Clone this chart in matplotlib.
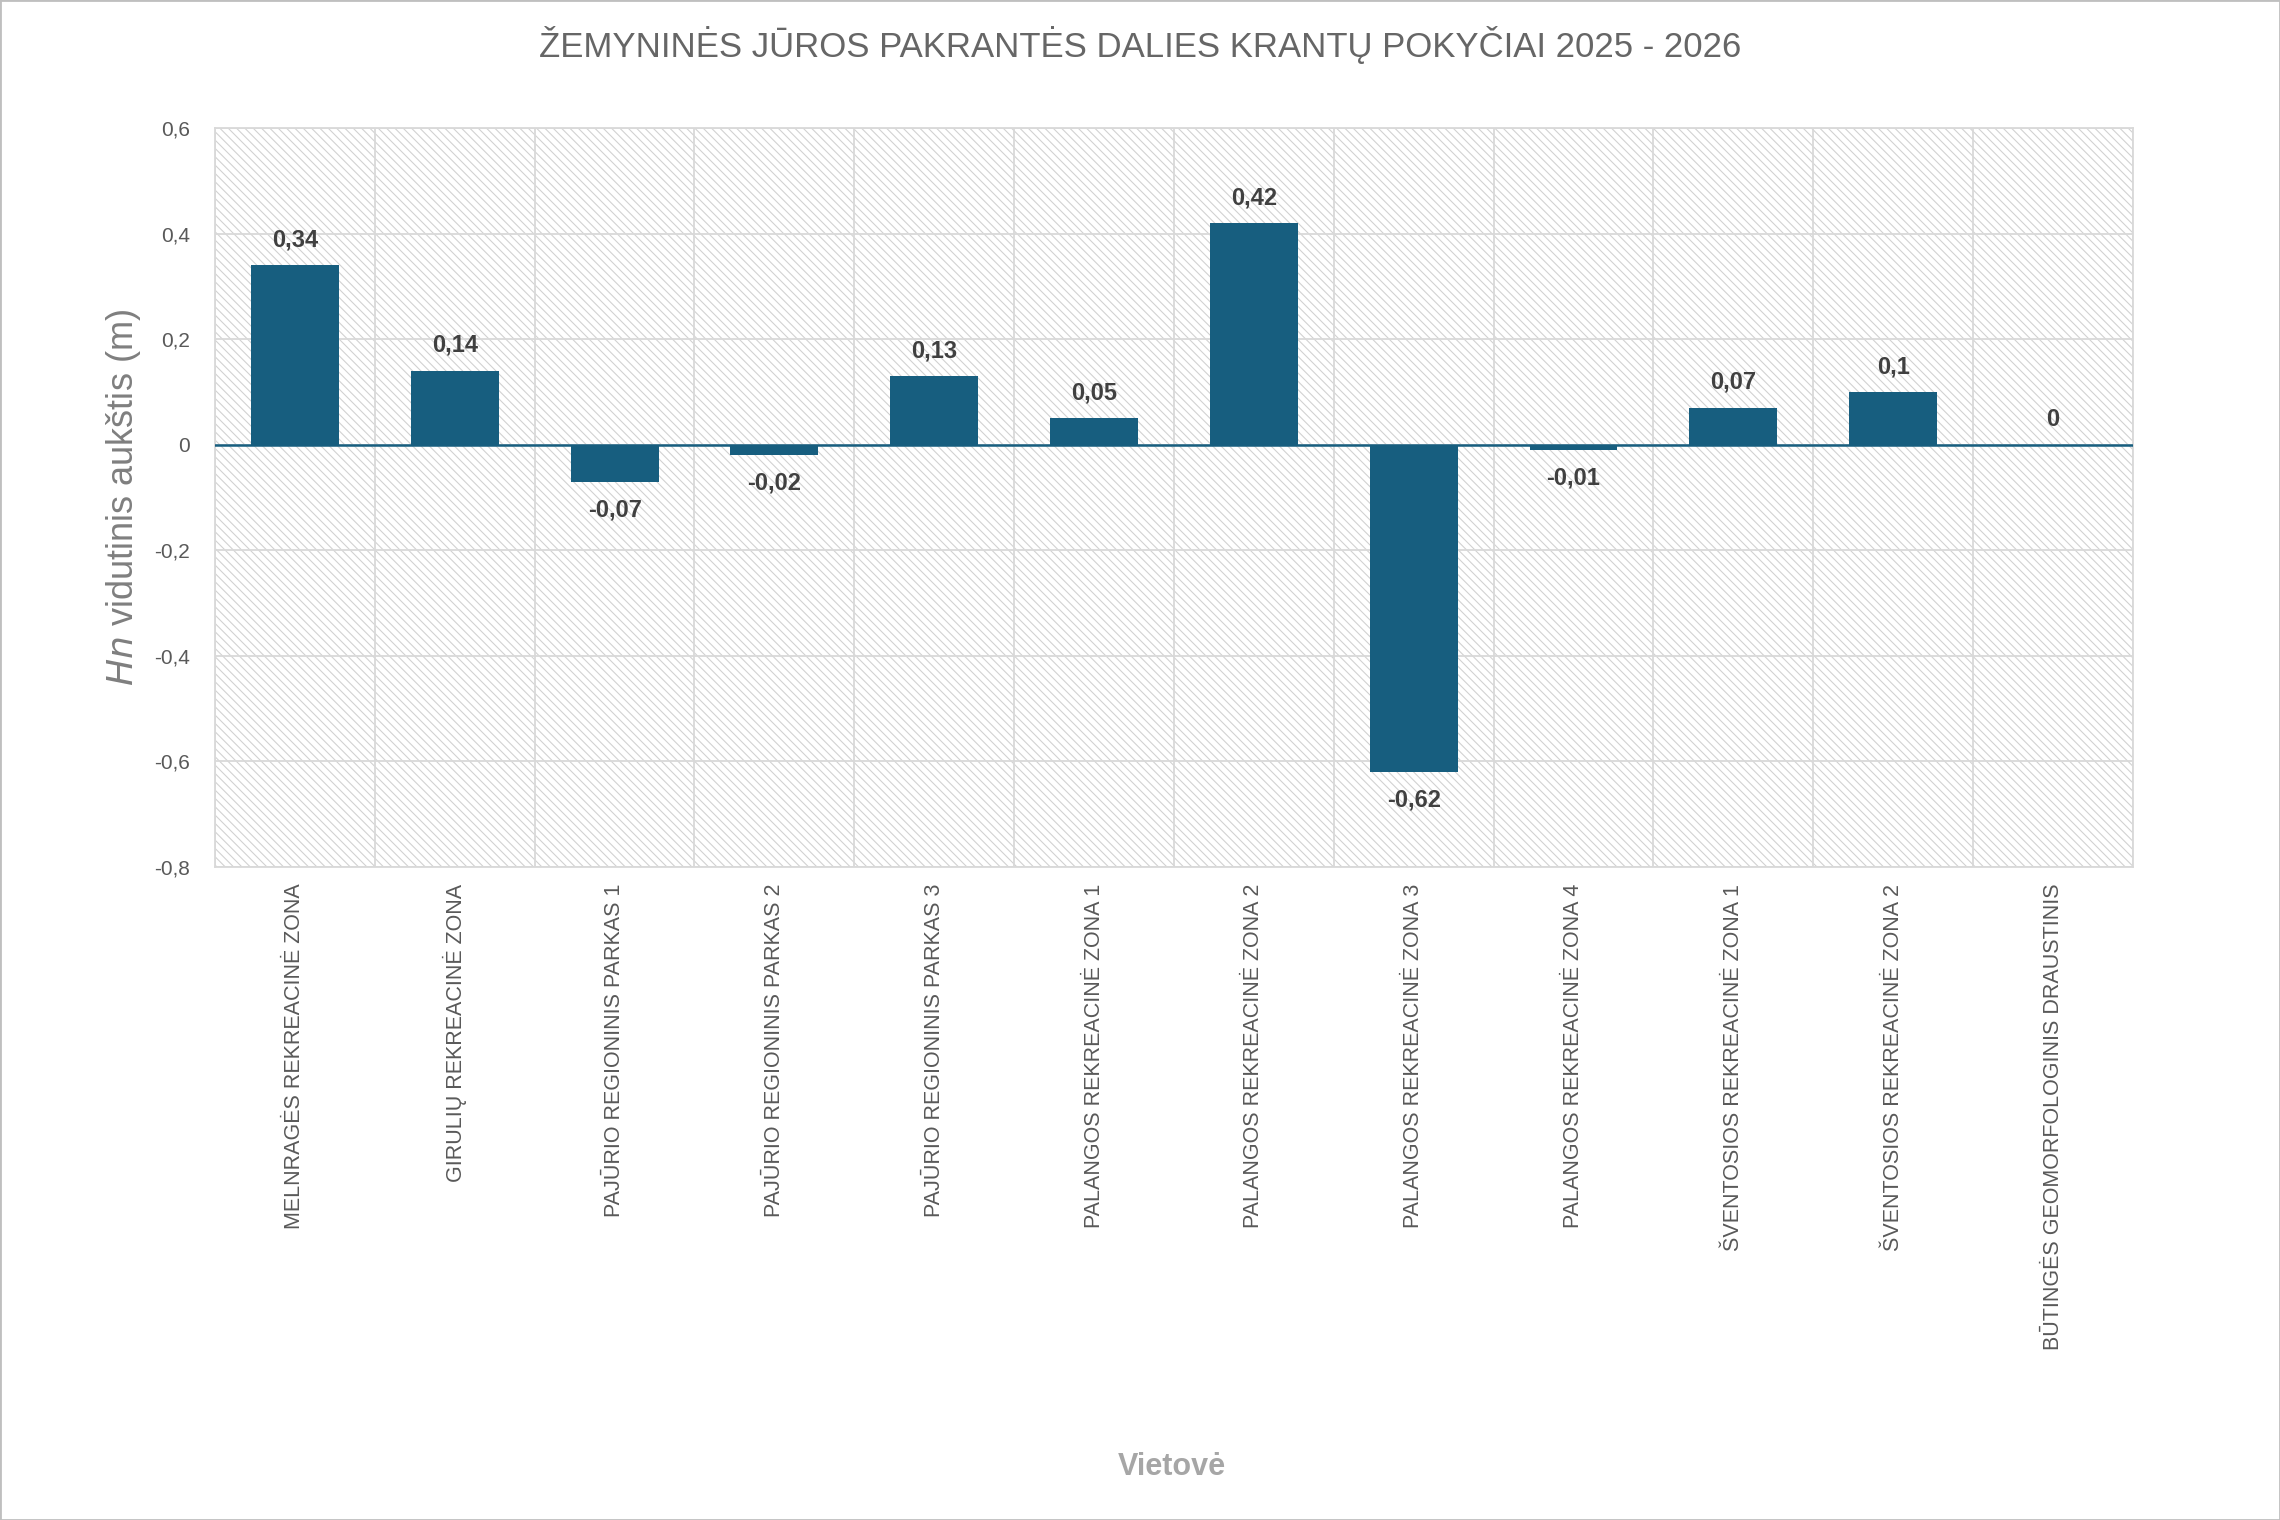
import numpy as np
import matplotlib.pyplot as plt
from matplotlib.patches import Rectangle

plt.rcParams['font.family'] = ['Liberation Sans', 'DejaVu Sans']
plt.rcParams['hatch.linewidth'] = 0.8

# duomenys
vietoves = ['MELNRAGĖS REKREACINĖ ZONA', 'GIRULIŲ REKREACINĖ ZONA',
            'PAJŪRIO REGIONINIS PARKAS 1', 'PAJŪRIO REGIONINIS PARKAS 2',
            'PAJŪRIO REGIONINIS PARKAS 3', 'PALANGOS REKREACINĖ ZONA 1',
            'PALANGOS REKREACINĖ ZONA 2', 'PALANGOS REKREACINĖ ZONA 3',
            'PALANGOS REKREACINĖ ZONA 4', 'ŠVENTOSIOS REKREACINĖ ZONA 1',
            'ŠVENTOSIOS REKREACINĖ ZONA 2', 'BŪTINGĖS GEOMORFOLOGINIS DRAUSTINIS']
hn = [0.34, 0.14, -0.07, -0.02, 0.13, 0.05, 0.42, -0.62, -0.01, 0.07, 0.1, 0]
y_ticks = [-0.8, -0.6, -0.4, -0.2, 0, 0.2, 0.4, 0.6]
y_tick_labels = ['-0,8', '-0,6', '-0,4', '-0,2', '0', '0,2', '0,4', '0,6']

bar_color = '#175E7F'
grid_color = '#d9d9d9'

fig = plt.figure(figsize=(22.8, 15.2), dpi=100)
ax = fig.add_axes([0.0943, 0.4296, 0.8412, 0.4862])

x = np.arange(len(hn))
ax.set_xlim(-0.5, len(hn) - 0.5)
ax.set_ylim(-0.8, 0.6)

# fonas su dryžiais
ax.add_patch(Rectangle((0, 0), 1, 1, transform=ax.transAxes, facecolor='white',
                       edgecolor='#d2d2d2', hatch='\\\\\\\\', linewidth=0, zorder=0))
ax.set_facecolor('white')

# tinklelis
for yv in y_ticks:
    ax.axhline(yv, color=grid_color, linewidth=1.3, zorder=1)
for xv in np.arange(-0.5, len(hn), 1):
    ax.axvline(xv, color=grid_color, linewidth=1.3, zorder=1)

ax.bar(x, hn, width=0.55, color=bar_color, zorder=3)
ax.axhline(0, color=bar_color, linewidth=1.8, zorder=4)

for xi, v in zip(x, hn):
    txt = str(v).replace('.', ',')
    if v < 0:
        ax.annotate(txt, (xi, v), xytext=(0, -12), textcoords='offset points',
                    ha='center', va='top', fontsize=17, fontweight='bold', color='#404040')
    else:
        ax.annotate(txt, (xi, v), xytext=(0, 10), textcoords='offset points',
                    ha='center', va='bottom', fontsize=17, fontweight='bold', color='#404040')

ax.set_yticks(y_ticks)
ax.set_yticklabels(y_tick_labels, fontsize=15, color='#595959')
ax.set_xticks(x)
ax.set_xticklabels(vietoves, rotation=90, fontsize=15.5, color='#595959', va='top')
ax.tick_params(axis='both', length=0)
ax.tick_params(axis='x', pad=12)
ax.tick_params(axis='y', pad=18)
for s in ax.spines.values():
    s.set_color(grid_color)
    s.set_linewidth(1.3)

ax.set_ylabel('$\\mathit{Hn}$ vidutinis aukštis (m)', fontsize=26, color='#7f7f7f')
ax.yaxis.set_label_coords(-0.0375, 0.5)

fig.text(0.5, 1 - 45 / 1520, 'ŽEMYNINĖS JŪROS PAKRANTĖS DALIES KRANTŲ POKYČIAI 2025 - 2026',
         ha='center', va='center', fontsize=25, color='#666666',
         family=['Liberation Sans Narrow', 'Liberation Sans'])
fig.text(0.514, 1 - 1467 / 1520, 'Vietovė', ha='center', va='center', fontsize=22,
         fontweight='bold', color='#a6a6a6')

# rėmelis
fig.patches.append(Rectangle((0, 0), 1, 1, transform=fig.transFigure, fill=False,
                             edgecolor='#bfbfbf', linewidth=2))

plt.savefig('out.png', dpi=100)
